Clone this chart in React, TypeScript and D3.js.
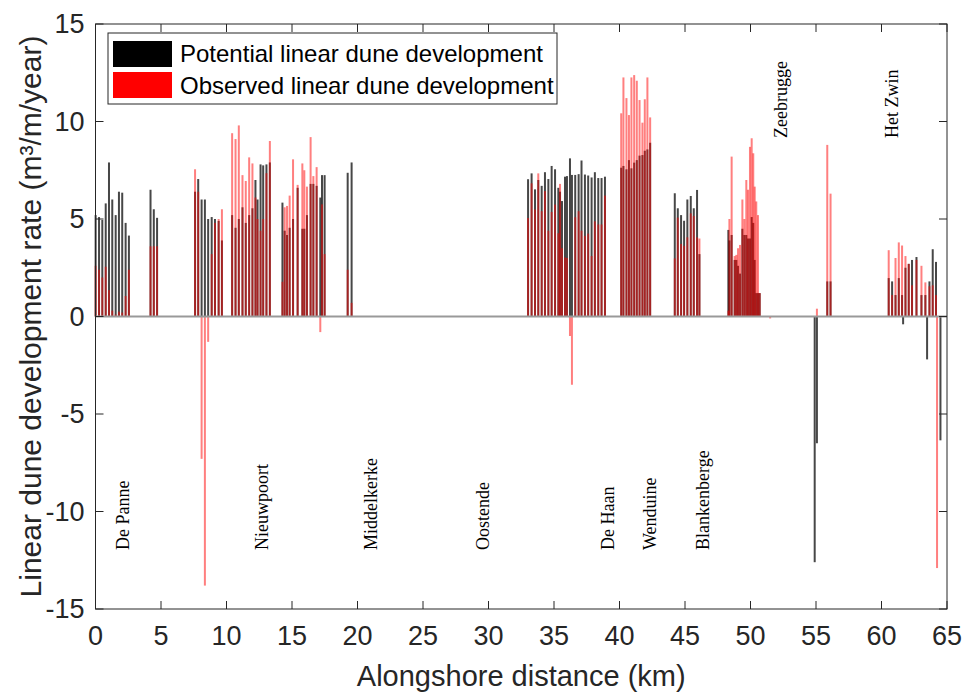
import * as d3 from "d3";

// transect positions along the coast (km) and dune development rates (m³/m/year)
const distanceKm = [
  0.01, 0.27, 0.52, 0.78, 1.03, 1.28, 1.54, 1.79, 2.04, 2.3, 2.55,
  4.2, 4.45, 4.7,
  7.6, 7.84, 8.1, 8.35, 8.6, 8.87, 9.12, 9.4, 9.65,
  10.43, 10.69, 10.94, 11.22, 11.47, 11.73, 11.98, 12.21, 12.37, 12.6, 12.8, 13.05, 13.31,
  14.27, 14.44, 14.62, 14.82, 15.08, 15.43, 15.79, 15.94, 16.14, 16.42, 16.63, 16.88, 17.16, 17.29, 17.49,
  19.25, 19.55,
  33.02, 33.29, 33.55, 33.8, 34.06, 34.31, 34.57, 34.82, 35.08, 35.33, 35.46, 35.61, 35.84, 35.99,
  36.22, 36.37, 36.62, 36.88, 37.1, 37.36, 37.61, 37.87, 38.12, 38.38, 38.63, 38.89,
  40.13, 40.3, 40.53, 40.72, 40.91, 41.12, 41.32, 41.53, 41.75, 41.93, 42.13, 42.34,
  44.22, 44.45, 44.7, 44.93, 45.18, 45.44, 45.67, 45.92, 46.1,
  48.31, 48.39, 48.56, 48.79, 48.92, 49.05, 49.2, 49.38, 49.53, 49.68, 49.81, 49.96, 50.09, 50.21,
  50.32, 50.44, 50.57, 50.7, 51.5,
  54.9, 55.07, 55.86, 56.11,
  60.55, 60.81, 61.07, 61.32, 61.57, 61.65, 61.83, 62.08, 62.33, 62.67, 63.05, 63.35, 63.48, 63.66,
  63.91, 64.16, 64.24, 64.5,
];

const potential = [
  5.2, 5.1, 4.95, 5.8, 7.9, 6.0, 5.2, 6.4, 6.35, 4.8, 4.15,
  6.5, 5.5, 5.06,
  6.4, 7.05, 6.0, 6.0, 5.0, 5.1, 5.0, 4.9, 3.9,
  5.2, 4.55, 5.0, 5.6, 4.8, 5.2, 5.55, 7.0, 6.0, 7.8, 7.75, 7.8, 7.9,
  5.84, 4.4, 4.18, 4.55, 5.0, 6.6, 4.5, 4.5, 5.2, 6.8, 6.8, 6.7, 6.1, 7.25, 7.25,
  7.37, 7.9,
  7.04, 7.34, 6.52, 7.0, 6.7, 7.4, 7.05, 7.72, 7.55, 6.6, 6.4, 5.92, 7.17, 7.2,
  8.11, 7.26, 7.26, 7.3, 8.0, 7.28, 7.23, 7.13, 7.4, 7.1, 7.1, 7.17,
  7.63, 7.72, 7.55, 8.02, 7.6, 7.89, 8.02, 8.25, 8.28, 8.5, 8.57, 8.91,
  6.32, 5.55, 5.2, 4.91, 6.0, 6.18, 5.55, 6.49, 3.2,
  4.44, 3.9, 4.18, 2.9, 2.9, 2.6, 2.2, 4.5, 4.18, 4.18, 4.0, 4.0, 5.1, 4.8,
  2.9, 1.2, 1.2, 1.2, 0,
  -12.6, -6.5, 1.8, 1.8,
  1.97, 1.8, 1.1, 1.97, 1.1, -0.4, 2.5, 2.7, 2.9, 3.05, 1.1, 1.1, -2.2, 1.8,
  3.45, 2.8, 0, -6.35,
];

const observed = [
  2.6, 2.4, 2.0, 2.55, 1.35, 0.3, 0.1, 0.25, 0.2, 1.05, 2.4,
  3.6, 3.6, 3.6,
  7.55, 6.4, -7.3, -13.8, -1.3, 3.2, 4.8, 5.0, 5.5,
  9.4, 9.1, 9.8, 7.25, 6.95, 8.16, 7.85, 6.1, 5.0, 4.4, 5.0, 7.35, 9.0,
  1.78, 5.6, 5.67, 6.2, 8.06, 6.75, 7.85, 7.5, 6.66, 9.2, 7.2, 7.66, -0.8, 5.75, 3.2,
  2.4, 0.7,
  5.05, 6.83, 5.49, 7.34, 5.4, 6.43, 4.4, 5.36, 5.74, 4.27, 6.8, 3.5, 3.03, 3.0,
  -1.0, -3.5, 5.09, 5.4, 4.4, 4.13, 4.25, 3.1, 4.88, 4.72, 4.72, 6.2,
  10.42, 12.26, 11.2, 10.33, 12.26, 12.38, 12.09, 11.1, 9.94, 11.14, 12.26, 10.21,
  2.98, 5.07, 3.72, 3.62, 4.06, 5.29, 5.15, 4.06, 4.0,
  0.3, 5.0, 8.2, 3.1, 3.16, 3.5, 3.67, 6.0, 5.0, 7.0, 6.5, 8.7, 9.14, 8.37,
  6.66, 5.9, 5.2, 1.2, -0.1,
  0, 0.4, 8.8, 6.3,
  3.4, 1.1, 3.0, 3.8, 3.64, 0, 3.1, 2.7, 1.6, 2.9, 2.6, 1.75, 0, 1.55,
  1.6, 1.1, -12.9, 0,
];

const townNames = ["De Panne", "Nieuwpoort", "Middelkerke", "Oostende", "De Haan", "Wenduine", "Blankenberge", "Zeebrugge", "Het Zwin"];
const townKm = [2.1, 12.7, 21.0, 29.6, 39.1, 42.3, 46.4, 52.3, 60.8];
const townOnTop = [false, false, false, false, false, false, false, true, true];

const xTicks = d3.range(0, 66, 5);
const yTicks = d3.range(-15, 16, 5);

const legendLabels = ["Potential linear dune development", "Observed linear dune development"];

const width = 963;
const height = 693;
const left = 95.5, right = 947, top = 24, bottom = 609;
const sans = "'Liberation Sans', Arial, sans-serif";
const serif = "'Liberation Serif', 'Times New Roman', serif";
const axisColor = "#262626";

export default function App() {
  const x = d3.scaleLinear([0, 65], [left, right]);
  const y = d3.scaleLinear([-15, 15], [bottom, top]);
  const barW = 2;

  const bar = (km: number, v: number) => ({
    x: x(km) - barW / 2,
    y: Math.min(y(v), y(0)),
    h: Math.abs(y(v) - y(0)),
  });

  return (
    <div style={{ position: "absolute", left: 0, top: 0 }}>
      <svg width={width} height={height} style={{ display: "block", background: "#fff" }}>
        {/* potential (black) */}
        <g fill="#000" fillOpacity={0.72}>
          {distanceKm.map((km, i) => {
            const b = bar(km, potential[i]);
            return b.h > 0 ? <rect key={i} x={b.x} y={b.y} width={barW} height={b.h} /> : null;
          })}
        </g>
        {/* observed (red) */}
        <g fill="#ff0000" fillOpacity={0.5}>
          {distanceKm.map((km, i) => {
            const b = bar(km, observed[i]);
            return b.h > 0 ? <rect key={i} x={b.x} y={b.y} width={barW} height={b.h} /> : null;
          })}
        </g>

        {/* baseline */}
        <line x1={left} x2={right} y1={y(0)} y2={y(0)} stroke="#999" strokeWidth={2} />

        {/* axes box */}
        <rect x={left} y={top} width={right - left} height={bottom - top} fill="none" stroke={axisColor} strokeWidth={1} />
        <g stroke={axisColor} strokeWidth={1}>
          {xTicks.map((t) => (
            <g key={t}>
              <line x1={x(t)} x2={x(t)} y1={bottom} y2={bottom - 8} />
              <line x1={x(t)} x2={x(t)} y1={top} y2={top + 8} />
            </g>
          ))}
          {yTicks.map((t) => (
            <g key={t}>
              <line x1={left} x2={left + 8} y1={y(t)} y2={y(t)} />
              <line x1={right} x2={right - 8} y1={y(t)} y2={y(t)} />
            </g>
          ))}
        </g>
        <g fontFamily={sans} fontSize={27} fill={axisColor}>
          {xTicks.map((t) => (
            <text key={t} x={x(t)} y={bottom + 36} textAnchor="middle">{t}</text>
          ))}
          {yTicks.map((t) => (
            <text key={t} x={left - 11} y={y(t) + 9} textAnchor="end">{t}</text>
          ))}
        </g>

        {/* axis titles */}
        <text x={(left + right) / 2} y={686} textAnchor="middle" fontFamily={sans} fontSize={29} fill={axisColor}>
          Alongshore distance (km)
        </text>
        <text transform={`translate(41,${(top + bottom) / 2}) rotate(-90)`} textAnchor="middle" fontFamily={sans} fontSize={30} fill={axisColor}>
          Linear dune development rate (m³/m/year)
        </text>

        {/* town labels */}
        <g fontFamily={serif} fontSize={18} fill="#000">
          {townNames.map((name, i) => (
            <text
              key={name}
              transform={`translate(${x(townKm[i]) + 6},${townOnTop[i] ? 138 : 550}) rotate(-90)`}
              textAnchor="start"
            >
              {name}
            </text>
          ))}
        </g>

        {/* legend */}
        <g>
          <rect x={108} y={33} width={449} height={71} fill="#fff" stroke={axisColor} strokeWidth={1} />
          <rect x={113} y={41} width={59} height={26} fill="#000" />
          <rect x={113} y={72} width={59} height={26} fill="#ff0000" />
          <g fontFamily={sans} fontSize={24} fill="#000">
            <text x={180} y={62}>{legendLabels[0]}</text>
            <text x={180} y={94}>{legendLabels[1]}</text>
          </g>
        </g>
      </svg>
    </div>
  );
}
